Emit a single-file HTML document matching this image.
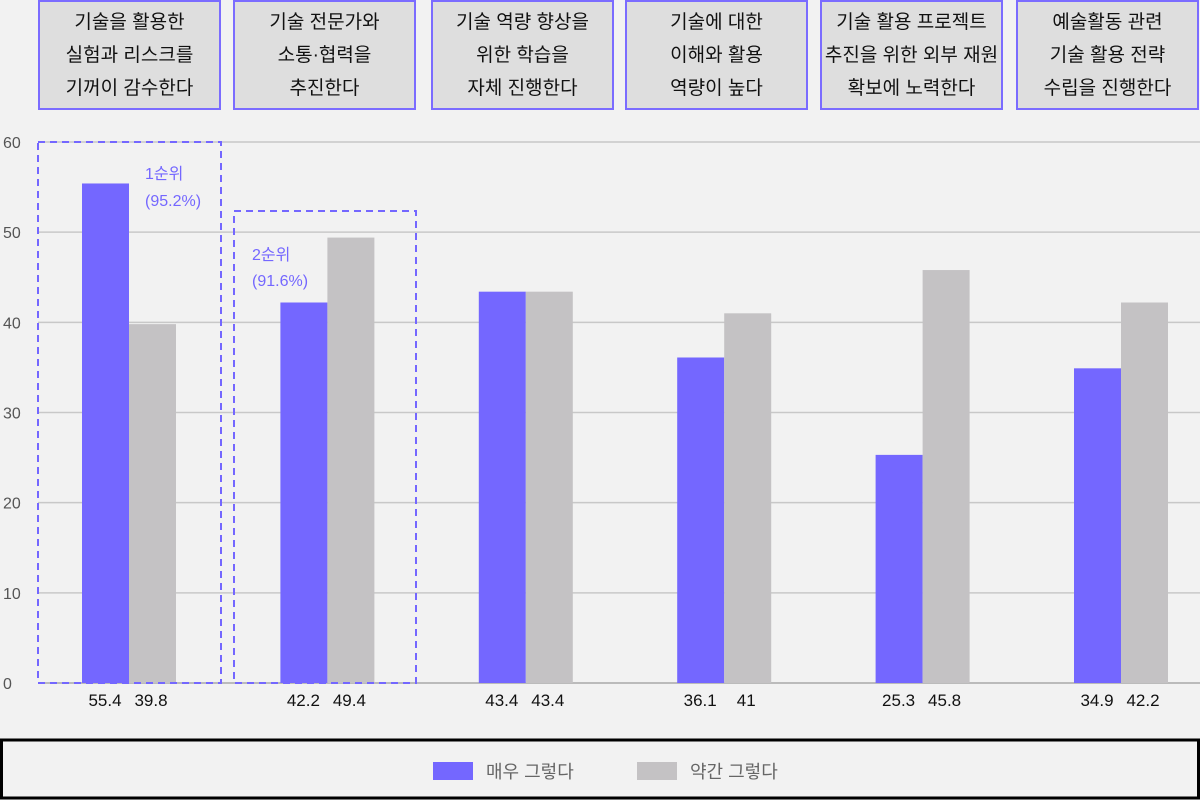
<!DOCTYPE html>
<html><head><meta charset="utf-8"><style>
body{margin:0;width:1200px;height:800px;background:#f2f2f2;font-family:"Liberation Sans","Noto Sans CJK KR",sans-serif;overflow:hidden;position:relative}
.hb{position:absolute;top:0;height:110px;background:#dedede;border:2px solid #7b6cff;box-sizing:border-box;display:flex;align-items:center;justify-content:center;text-align:center;font-size:19px;line-height:33px;color:#111}
</style></head><body>
<div id="heads"></div>
<svg id="chart" width="1200" height="800" style="position:absolute;left:0;top:0"></svg>
<script>
const categories=["기술을 활용한<br>실험과 리스크를<br>기꺼이 감수한다","기술 전문가와<br>소통·협력을<br>추진한다","기술 역량 향상을<br>위한 학습을<br>자체 진행한다","기술에 대한<br>이해와 활용<br>역량이 높다","기술 활용 프로젝트<br>추진을 위한 외부 재원<br>확보에 노력한다","예술활동 관련<br>기술 활용 전략<br>수립을 진행한다"];
const veryValues=[55.4,42.2,43.4,36.1,25.3,34.9];
const someValues=[39.8,49.4,43.4,41,45.8,42.2];
const yTicks=[0,10,20,30,40,50,60];
const headX=[38,233,431,625,820,1016];
const NS="http://www.w3.org/2000/svg";
const svg=document.getElementById('chart');
const y=v=>683-v*(541/60);
const cx=i=>129+i*198.4;
function mk(t,a,p){const e=document.createElementNS(NS,t);for(const k in a)e.setAttribute(k,a[k]);(p||svg).appendChild(e);return e;}
const heads=document.getElementById('heads');
categories.forEach((c,i)=>{const d=document.createElement('div');d.className='hb';d.style.left=headX[i]+'px';d.style.width='183px';d.innerHTML=c;


heads.appendChild(d);});
yTicks.forEach(t=>{const l=mk('line',{x1:38,x2:1200,y1:y(t),y2:y(t),stroke:t==0?'#bbb':'#c8c8c8','stroke-width':t==0?2:1.5});


const tx=mk('text',{x:3,y:y(t)+6,'font-size':16,fill:'#555'});tx.textContent=t;

});
veryValues.forEach((v,i)=>{const r=mk('rect',{x:cx(i)-47,y:y(v),width:47,height:683-y(v),fill:'#7467ff'});


const t=mk('text',{x:cx(i)-24,y:706,'font-size':17,fill:'#111','text-anchor':'middle'});t.textContent=v;

});
someValues.forEach((v,i)=>{const r=mk('rect',{x:cx(i),y:y(v),width:47,height:683-y(v),fill:'#c4c2c4'});


const t=mk('text',{x:cx(i)+22,y:706,'font-size':17,fill:'#111','text-anchor':'middle'});t.textContent=v;

});
const b1=mk('rect',{x:38,y:142,width:183,height:541,fill:'none',stroke:'#7467ff','stroke-width':2,'stroke-dasharray':'7,5'});


const b2=mk('rect',{x:234,y:211,width:182,height:472,fill:'none',stroke:'#7467ff','stroke-width':2,'stroke-dasharray':'7,5'});


[["1순위",145,179],["(95.2%)",145,206],["2순위",252,260],["(91.6%)",252,286]].forEach(a=>{const t=mk('text',{x:a[1],y:a[2],'font-size':16,fill:'#7467ff'});t.textContent=a[0];

});
const lb=mk('rect',{x:1.5,y:740,width:1197,height:58,fill:'#f2f2f2',stroke:'#000','stroke-width':3});


[["#7467ff","매우 그렇다",433],["#c4c2c4","약간 그렇다",637]].forEach(a=>{const r=mk('rect',{x:a[2],y:762,width:40,height:18,fill:a[0]});


const t=mk('text',{x:a[2]+53,y:778,'font-size':18,fill:'#666'});t.textContent=a[1];

});
</script>
</body></html>
